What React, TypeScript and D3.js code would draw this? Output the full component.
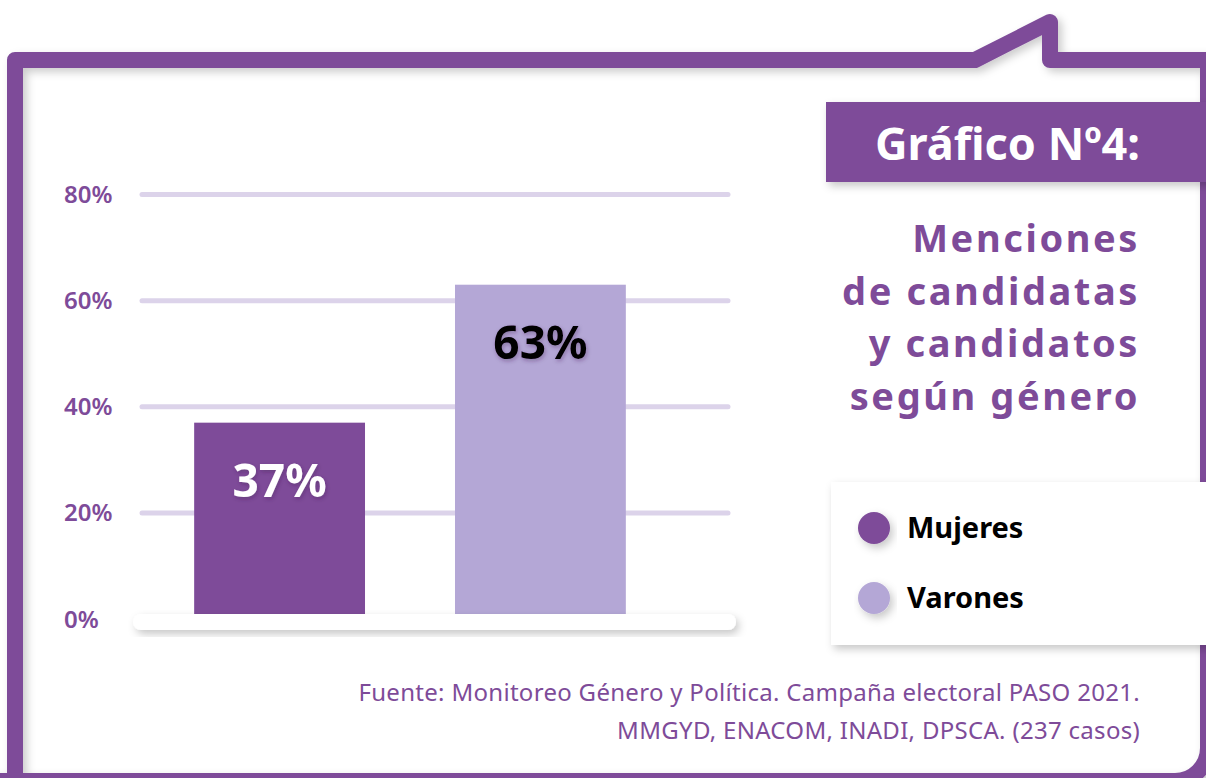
import * as d3 from 'd3';

const categories = ['Mujeres', 'Varones'];
const shares = [37, 63];
const yTicks = [0, 20, 40, 60, 80];
const titleLines = ['Menciones', 'de candidatas', 'y candidatos', 'según género'];
const sourceLines = [
  'Fuente: Monitoreo Género y Política. Campaña electoral PASO 2021.',
  'MMGYD, ENACOM, INADI, DPSCA. (237 casos)',
];

const PURPLE = '#7e4b99';
const LILAC = '#b4a7d6';
const GRID = '#dcd3ea';
const FONT = '"Noto Sans", "Open Sans", sans-serif';

export default function App() {
  const width = 1206;
  const height = 778;

  const y = d3.scaleLinear().domain([0, 80]).range([619, 194.5]);
  const x = d3.scaleBand<string>()
    .domain(categories)
    .range([142, 678])
    .paddingInner(0.345)
    .paddingOuter(0.2);
  const color = d3.scaleOrdinal<string, string>().domain(categories).range([PURPLE, LILAC]);
  const labelColor = ['#ffffff', '#000000'];

  // speech-bubble frame
  const frame = d3.path();
  frame.moveTo(15, 800);
  frame.lineTo(15, 60);
  frame.lineTo(975, 60);
  frame.lineTo(1050, 22);
  frame.lineTo(1050, 60);
  frame.lineTo(1208, 60);
  frame.lineTo(1208, 748);
  frame.arcTo(1208, 781, 1175, 781, 33);
  frame.lineTo(-20, 781);

  return (
    <svg
      width={width}
      height={height}
      style={{ position: 'absolute', left: 0, top: 0, display: 'block', background: '#fff' }}
      fontFamily={FONT}
    >
      <defs>
        <filter id="shadow" x="-10%" y="-20%" width="130%" height="160%">
          <feDropShadow dx="3" dy="4" stdDeviation="4" floodColor="#000" floodOpacity="0.22" />
        </filter>
        <filter id="frameShadow" x="-5%" y="-5%" width="110%" height="110%">
          <feDropShadow dx="4" dy="4" stdDeviation="4" floodColor="#000" floodOpacity="0.2" />
        </filter>
        <filter id="textShadow" x="-20%" y="-20%" width="140%" height="160%">
          <feDropShadow dx="1" dy="2" stdDeviation="2" floodColor="#3a1f4a" floodOpacity="0.35" />
        </filter>
      </defs>

      <rect width={width} height={height} fill="#fff" />

      <path
        d={frame.toString()}
        fill="none"
        stroke={PURPLE}
        strokeWidth={16}
        strokeLinejoin="round"
        filter="url(#frameShadow)"
      />

      {/* grid lines and y labels */}
      {yTicks.filter(t => t > 0).map(t => (
        <line
          key={t}
          x1={142}
          x2={728}
          y1={y(t)}
          y2={y(t)}
          stroke={GRID}
          strokeWidth={5}
          strokeLinecap="round"
        />
      ))}
      {yTicks.map(t => (
        <text
          key={t}
          x={64}
          y={y(t) + 8.5}
          fill={PURPLE}
          fontSize={24}
          fontWeight={600}
        >
          {t}%
        </text>
      ))}

      {/* bars */}
      {categories.map((c, i) => (
        <rect
          key={c}
          x={x(c)}
          y={y(shares[i])}
          width={x.bandwidth()}
          height={y(0) - y(shares[i])}
          fill={color(c)}
        />
      ))}

      {/* baseline */}
      <rect x={133} y={614} width={603} height={16} rx={8} fill="#fff" filter="url(#shadow)" />

      {categories.map((c, i) => (
        <text
          key={c}
          x={(x(c) ?? 0) + x.bandwidth() / 2}
          y={y(shares[i]) + 74}
          textAnchor="middle"
          fill={labelColor[i]}
          fontSize={46}
          fontWeight={700}
          filter="url(#textShadow)"
        >
          {shares[i]}%
        </text>
      ))}

      {/* title block */}
      <rect x={826} y={102} width={400} height={80} fill={PURPLE} filter="url(#shadow)" />
      <text x={1140} y={160} textAnchor="end" fill="#fff" fontSize={45} fontWeight={700}>
        Gráfico Nº4:
      </text>
      {titleLines.map((line, i) => (
        <text
          key={line}
          x={1140}
          y={252 + i * 52.7}
          textAnchor="end"
          fill={PURPLE}
          fontSize={38}
          fontWeight={700}
          letterSpacing={2.6}
        >
          {line}
        </text>
      ))}

      {/* legend */}
      <rect x={831} y={482} width={400} height={163} fill="#fff" filter="url(#shadow)" />
      {categories.map((c, i) => (
        <g key={c} transform={`translate(0, ${528 + i * 70})`}>
          <circle cx={874} cy={0} r={16} fill={color(c)} filter="url(#shadow)" />
          <text x={907} y={10} fill="#000" fontSize={29} fontWeight={700}>
            {c}
          </text>
        </g>
      ))}

      {/* source */}
      {sourceLines.map((line, i) => (
        <text
          key={line}
          x={1140}
          y={701 + i * 38}
          textAnchor="end"
          fill={PURPLE}
          fontSize={24}
          letterSpacing={0.3}
        >
          {line}
        </text>
      ))}
    </svg>
  );
}
